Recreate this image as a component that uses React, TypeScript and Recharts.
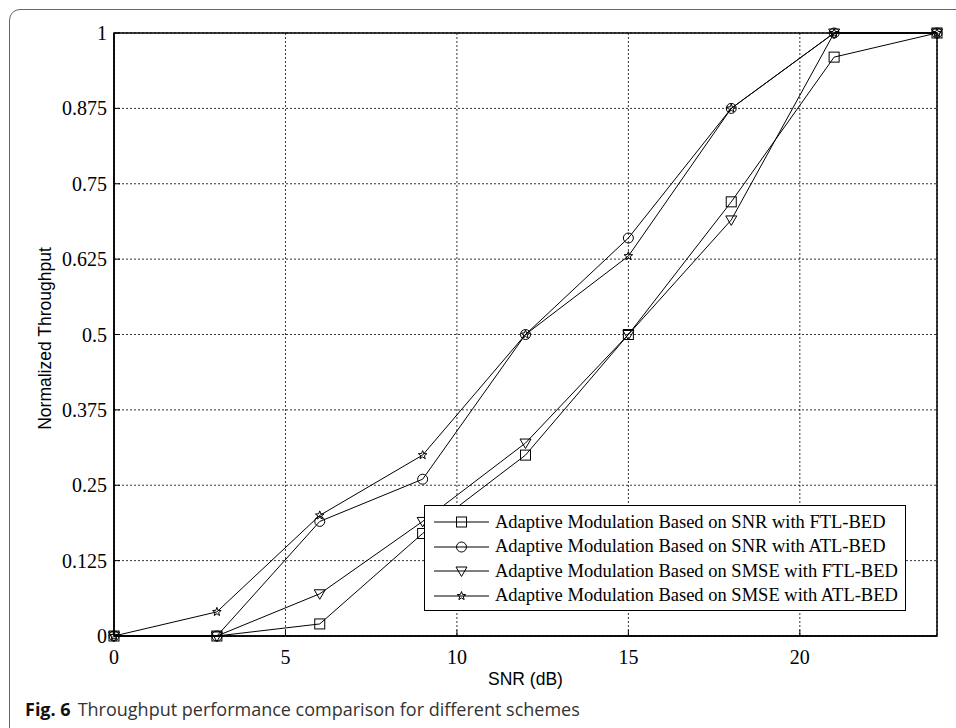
import React from 'react'
import {
  LineChart, Line, XAxis, YAxis, CartesianGrid, Legend, ReferenceArea, Label,
} from 'recharts'

const snr = [0, 3, 6, 9, 12, 15, 18, 21, 24]
const snrFtl = [0, 0, 0.02, 0.17, 0.3, 0.5, 0.72, 0.96, 1]
const snrAtl = [0, 0, 0.19, 0.26, 0.5, 0.66, 0.875, 1, 1]
const smseFtl = [0, 0, 0.07, 0.19, 0.32, 0.5, 0.69, 1, 1]
const smseAtl = [0, 0.04, 0.2, 0.3, 0.5, 0.63, 0.875, 1, 1]

const xTicks = [0, 5, 10, 15, 20]
const yTicks = [0, 0.125, 0.25, 0.375, 0.5, 0.625, 0.75, 0.875, 1]

const seriesInfo = [
  { key: 'snrFtl', name: 'Adaptive Modulation Based on SNR with FTL-BED', marker: 'square' },
  { key: 'snrAtl', name: 'Adaptive Modulation Based on SNR with ATL-BED', marker: 'circle' },
  { key: 'smseFtl', name: 'Adaptive Modulation Based on SMSE with FTL-BED', marker: 'triangle' },
  { key: 'smseAtl', name: 'Adaptive Modulation Based on SMSE with ATL-BED', marker: 'star' },
]

const data = snr.map((s, i) => ({
  snr: s,
  snrFtl: snrFtl[i],
  snrAtl: snrAtl[i],
  smseFtl: smseFtl[i],
  smseAtl: smseAtl[i],
}))

const serif = '"Liberation Serif", "Times New Roman", serif'
const sans = '"Liberation Sans", Arial, sans-serif'

function Marker({ cx, cy, kind }: { cx: number; cy: number; kind: string }) {
  if (cx == null || cy == null) return null
  const st = { fill: 'none', stroke: '#000', strokeWidth: 1 }
  if (kind === 'square') return <rect x={cx - 5} y={cy - 5} width={10} height={10} {...st} />
  if (kind === 'circle') return <circle cx={cx} cy={cy} r={5} {...st} />
  if (kind === 'triangle')
    return <polygon points={`${cx - 5.5},${cy - 4} ${cx + 5.5},${cy - 4} ${cx},${cy + 5.5}`} {...st} />
  const pts: string[] = []
  for (let k = 0; k < 10; k++) {
    const r = k % 2 === 0 ? 4.5 : 1.9
    const a = -Math.PI / 2 + (k * Math.PI) / 5
    pts.push(`${cx + r * Math.cos(a)},${cy + r * Math.sin(a)}`)
  }
  return <polygon points={pts.join(' ')} {...st} />
}

function LegendBox() {
  return (
    <div
      style={{
        background: '#fff', border: '1.5px solid #000', width: 482, height: 106,
        boxSizing: 'border-box', padding: '4px 0 0 8px', fontFamily: serif, fontSize: 18.5,
      }}
    >
      {seriesInfo.map((s) => (
        <div key={s.key} style={{ display: 'flex', alignItems: 'center', height: 24.5 }}>
          <svg width={58} height={14} style={{ flexShrink: 0 }}>
            <line x1={1} y1={7} x2={56} y2={7} stroke="#000" strokeWidth={1} />
            <Marker cx={28.5} cy={7} kind={s.marker} />
          </svg>
          <span style={{ marginLeft: 4, whiteSpace: 'nowrap' }}>{s.name}</span>
        </div>
      ))}
    </div>
  )
}

export default function App() {
  return (
    <div style={{ position: 'absolute', left: 0, top: 0, width: 956, height: 728, overflow: 'hidden', background: '#fff' }}>
      <div
        style={{
          position: 'absolute', left: 9, top: 9, width: 1000, height: 760,
          border: '1.5px solid #666', borderRadius: 11, boxSizing: 'border-box',
        }}
      />
      <div style={{ position: 'absolute', left: 0, top: 0 }}>
        <LineChart width={956} height={728} data={data} margin={{ top: 33, right: 19, bottom: 62, left: 54 }}>
          <CartesianGrid stroke="#000" strokeDasharray="2 2" strokeWidth={0.8} />
          <XAxis
            dataKey="snr" type="number" domain={[0, 24]} ticks={xTicks} height={30}
            axisLine={{ stroke: '#000', strokeWidth: 1.5 }} tickLine={{ stroke: '#000' }}
            tickSize={-6} tickMargin={20}
            tick={{ fill: '#000', fontFamily: serif, fontSize: 20 }}
          >
            <Label
              content={({ viewBox }: any) => (
                <text x={viewBox.x + viewBox.width / 2} y={685} textAnchor="middle"
                  fontFamily={sans} fontSize={17.5} fill="#000">SNR (dB)</text>
              )}
            />
          </XAxis>
          <YAxis
            type="number" domain={[0, 1]} ticks={yTicks} width={60}
            axisLine={{ stroke: '#000', strokeWidth: 1.5 }} tickLine={{ stroke: '#000' }}
            tickSize={-6} tickMargin={13} tickFormatter={(v: number) => String(v)}
            tick={{ fill: '#000', fontFamily: serif, fontSize: 20 }}
          >
            <Label
              content={({ viewBox }: any) => {
                const cy = viewBox.y + viewBox.height / 2 + 4
                return (
                  <text x={51} y={cy} textAnchor="middle" transform={`rotate(-90 51 ${cy})`}
                    fontFamily={sans} fontSize={17.5} fill="#000">Normalized Throughput</text>
                )
              }}
            />
          </YAxis>
          <ReferenceArea x1={0} x2={24} y1={0} y2={1} fill="none" fillOpacity={0}
            stroke="#000" strokeWidth={1.5} ifOverflow="visible" />
          {seriesInfo.map((s) => (
            <Line
              key={s.key} dataKey={s.key} name={s.name} stroke="#000" strokeWidth={1}
              isAnimationActive={false}
              dot={(p: any) => <Marker key={`${s.key}-${p.index}`} cx={p.cx} cy={p.cy} kind={s.marker} />}
            />
          ))}
          <Legend
            layout="vertical" verticalAlign="middle" align="center"
            content={() => <LegendBox />}
            wrapperStyle={{ position: 'absolute', left: 424, top: 505, width: 482, height: 106, margin: 0 }}
          />
        </LineChart>
      </div>
      <div
        style={{
          position: 'absolute', left: 25, top: 697, fontFamily: '"Open Sans", sans-serif',
          fontSize: 18, color: '#333', whiteSpace: 'nowrap',
        }}
      >
        <b style={{ color: '#111' }}>Fig. 6</b>
        <span style={{ marginLeft: 7 }}>Throughput performance comparison for different schemes</span>
      </div>
    </div>
  )
}
